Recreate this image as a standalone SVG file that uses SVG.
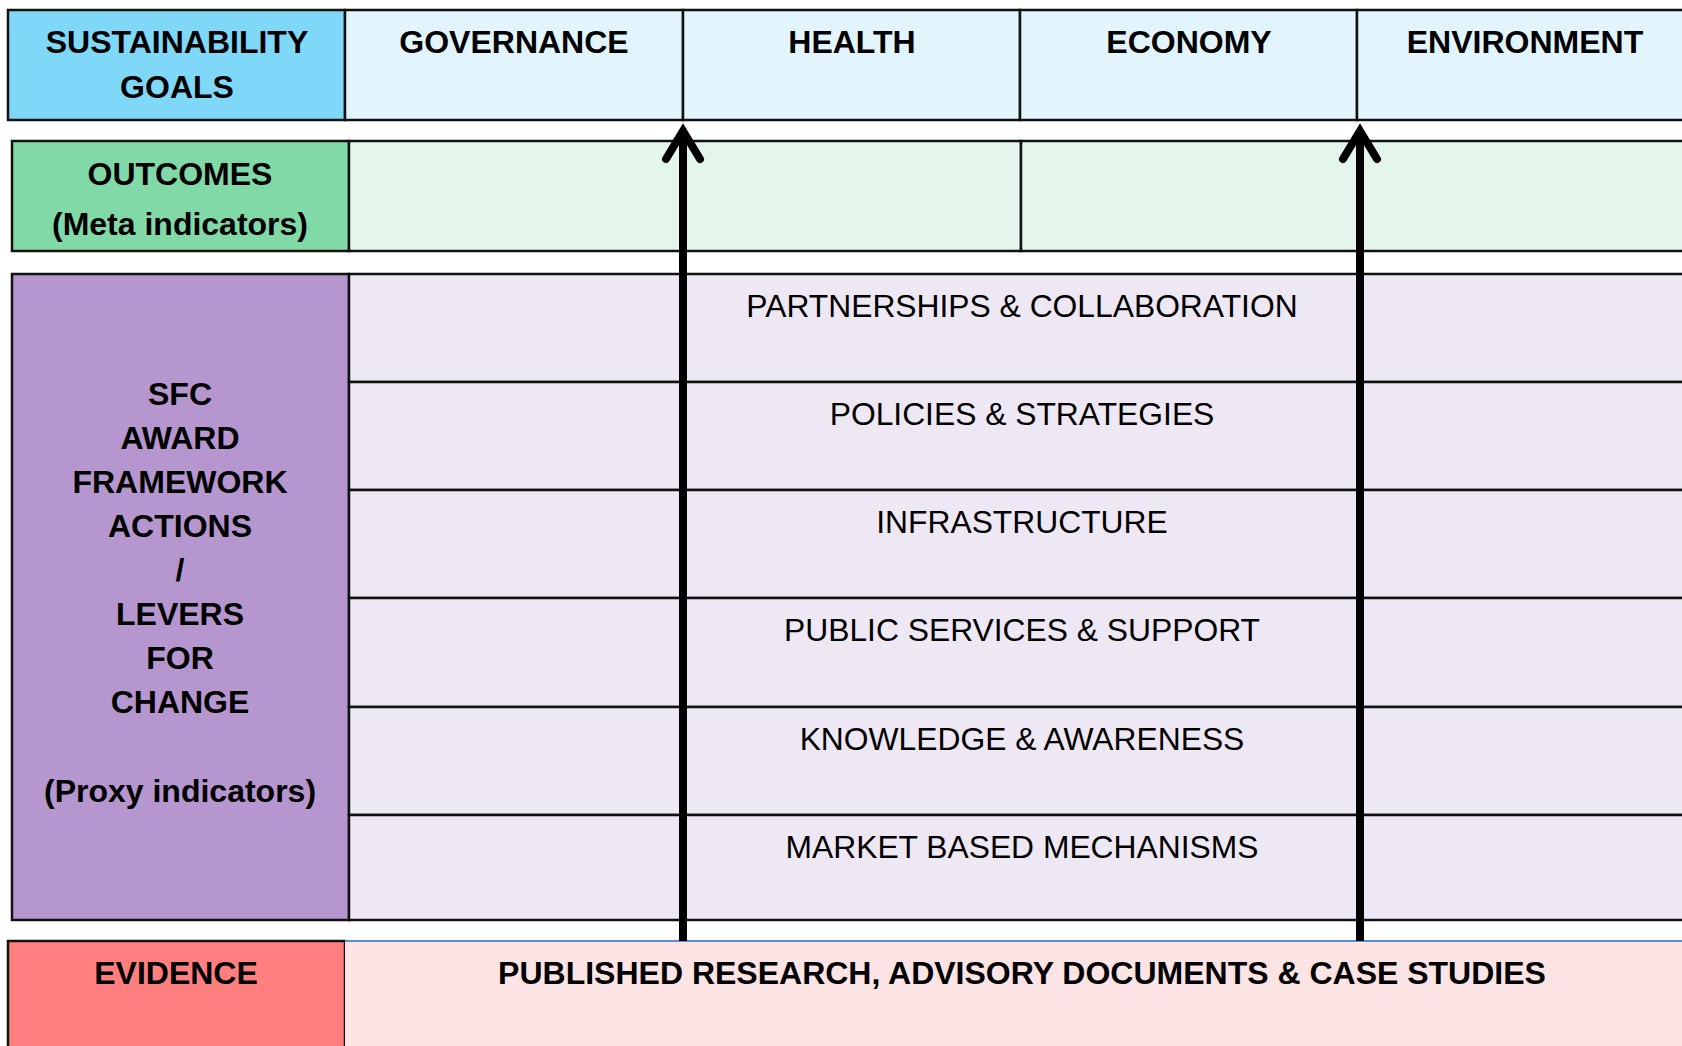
<svg xmlns="http://www.w3.org/2000/svg" width="1682" height="1046" viewBox="0 0 1682 1046">
  <style>
    .b { stroke: #111; stroke-width: 2.5; }
    .h { font-family: "Liberation Sans", Arial, sans-serif; font-weight: bold; font-size: 32px; fill: #000; text-anchor: middle; }
    .r { font-family: "Liberation Sans", Arial, sans-serif; font-size: 31.8px; fill: #000; text-anchor: middle; }
    .arrow { stroke: #000; stroke-width: 8; fill: none; marker-end: url(#head); }
  </style>
  <defs>
    <marker id="head" markerUnits="userSpaceOnUse" viewBox="-40 -30 60 60" markerWidth="60" markerHeight="60" refX="0" refY="0" orient="auto">
      <path d="M -28 -17 L 0 0 L -28 17" fill="none" stroke="#000" stroke-width="8" stroke-linejoin="miter" stroke-linecap="round"/>
    </marker>
  </defs>
  <rect width="1682" height="1046" fill="#fff"/>

  <!-- Goals row -->
  <g id="goals">
    <rect x="8" y="10" width="337" height="110" fill="#80D8F8" class="b"/>
    <text class="h" x="177" y="53">SUSTAINABILITY</text>
    <text class="h" x="177" y="98">GOALS</text>
  </g>
  <g id="goal-governance">
    <rect x="345" y="10" width="338" height="110" fill="#E3F5FC" class="b"/>
    <text class="h" x="514" y="53">GOVERNANCE</text>
  </g>
  <g id="goal-health">
    <rect x="683" y="10" width="337" height="110" fill="#E3F5FC" class="b"/>
    <text class="h" x="852" y="53">HEALTH</text>
  </g>
  <g id="goal-economy">
    <rect x="1020" y="10" width="337" height="110" fill="#E3F5FC" class="b"/>
    <text class="h" x="1189" y="53">ECONOMY</text>
  </g>
  <g id="goal-environment">
    <rect x="1357" y="10" width="340" height="110" fill="#E3F5FC" class="b"/>
    <text class="h" x="1525" y="53">ENVIRONMENT</text>
  </g>

  <!-- Outcomes row -->
  <g id="outcomes">
    <rect x="12" y="141" width="337" height="110" fill="#82D9A8" class="b"/>
    <text class="h" x="180" y="185">OUTCOMES</text>
    <text class="h" x="180" y="235">(Meta indicators)</text>
  </g>
  <g id="outcome-cells">
    <rect x="349" y="141" width="672" height="110" fill="#E4F5EC" class="b"/>
    <rect x="1021" y="141" width="676" height="110" fill="#E4F5EC" class="b"/>
  </g>

  <!-- Actions / levers -->
  <g id="levers">
    <rect x="12" y="274" width="337" height="646" fill="#B596CE" class="b"/>
    <text class="h" x="180" y="405">SFC</text>
    <text class="h" x="180" y="449">AWARD</text>
    <text class="h" x="180" y="493">FRAMEWORK</text>
    <text class="h" x="180" y="537">ACTIONS</text>
    <text class="h" x="180" y="581">/</text>
    <text class="h" x="180" y="625">LEVERS</text>
    <text class="h" x="180" y="669">FOR</text>
    <text class="h" x="180" y="713">CHANGE</text>
    <text class="h" x="180" y="802">(Proxy indicators)</text>
  </g>
  <g id="lever-partnerships">
    <rect x="349" y="274" width="1348" height="108" fill="#EEE8F4" class="b"/>
    <text class="r" x="1022" y="317">PARTNERSHIPS &amp; COLLABORATION</text>
  </g>
  <g id="lever-policies">
    <rect x="349" y="382" width="1348" height="108" fill="#EEE8F4" class="b"/>
    <text class="r" x="1022" y="425">POLICIES &amp; STRATEGIES</text>
  </g>
  <g id="lever-infrastructure">
    <rect x="349" y="490" width="1348" height="108" fill="#EEE8F4" class="b"/>
    <text class="r" x="1022" y="533">INFRASTRUCTURE</text>
  </g>
  <g id="lever-services">
    <rect x="349" y="598" width="1348" height="109" fill="#EEE8F4" class="b"/>
    <text class="r" x="1022" y="641">PUBLIC SERVICES &amp; SUPPORT</text>
  </g>
  <g id="lever-knowledge">
    <rect x="349" y="707" width="1348" height="108" fill="#EEE8F4" class="b"/>
    <text class="r" x="1022" y="750">KNOWLEDGE &amp; AWARENESS</text>
  </g>
  <g id="lever-market">
    <rect x="349" y="815" width="1348" height="105" fill="#EEE8F4" class="b"/>
    <text class="r" x="1022" y="858">MARKET BASED MECHANISMS</text>
  </g>

  <!-- Evidence row -->
  <g id="evidence">
    <rect x="8" y="941" width="337" height="120" fill="#FF7F7F" class="b"/>
    <text class="h" x="176" y="984">EVIDENCE</text>
  </g>
  <g id="evidence-sources">
    <rect x="345" y="941" width="1350" height="120" fill="#FDE4E4"/>
    <line x1="345" y1="941" x2="1682" y2="941" stroke="#5B8FD0" stroke-width="2"/>
    <text class="h" x="1022" y="984">PUBLISHED RESEARCH, ADVISORY DOCUMENTS &amp; CASE STUDIES</text>
  </g>

  <!-- Upward arrows from evidence to goals -->
  <g id="connectors">
    <line class="arrow" x1="683" y1="941" x2="683" y2="131"/>
    <line class="arrow" x1="1360" y1="941" x2="1360" y2="131"/>
  </g>
</svg>
